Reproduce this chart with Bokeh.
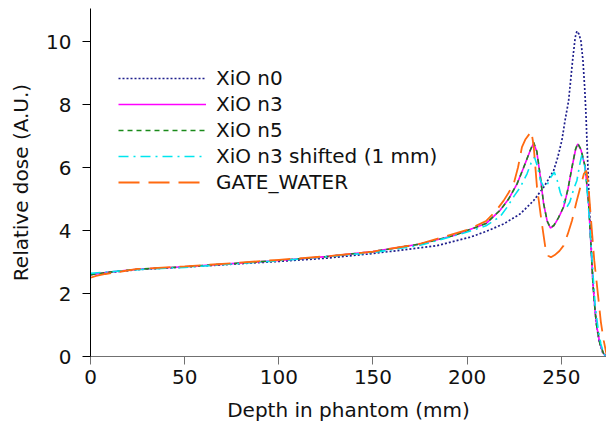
from bokeh.plotting import figure
from bokeh.models import Range1d, FixedTicker, Legend, LegendItem
from bokeh.embed import file_html
from bokeh.resources import INLINE

# ---- data ----
n0_depth = [0, 25, 50, 75, 100, 125, 150, 175, 184, 201.7, 210, 219.4, 228.2, 235.3, 240.6,
            245.9, 248, 250.3, 252, 253.9, 256, 257.4, 258.3, 259.3, 260.4, 261.5, 262.4,
            263.1, 264, 265, 266, 267, 268.5, 270, 272, 274]
n0_dose = [2.6, 2.76, 2.84, 2.93, 3.02, 3.12, 3.27, 3.45, 3.52, 3.79, 3.97, 4.21, 4.53, 4.95, 5.37,
           5.9, 6.3, 6.86, 7.5, 8.13, 9.4, 10.14, 10.33, 10.25, 10.03, 9.4, 8.55,
           7.7, 6.22, 4.63, 3.3, 2.2, 1.1, 0.5, 0.12, 0.0]

n3_depth = [0, 10, 25, 50, 75, 100, 125, 150, 175, 193, 200, 210, 217.6, 222, 226.5, 230, 233.5,
            235.3, 237, 238.9, 240.6, 242.5, 244.2, 246, 248.5, 251.2, 253.5, 255.7, 257.5,
            258.7, 260.5, 262.7, 264.5, 265.7, 266.8, 268, 268.9, 270.5, 272.5, 273.5]
n3_dose = [2.6, 2.68, 2.77, 2.85, 2.95, 3.05, 3.17, 3.33, 3.57, 3.84, 4.0, 4.22, 4.65, 5.0, 5.48, 6.0, 6.54,
           6.78, 6.5, 5.69, 4.85, 4.3, 4.08, 4.15, 4.4, 4.74, 5.3, 6.01, 6.55,
           6.75, 6.55, 6.01, 4.85, 3.58, 2.31, 1.4, 0.93, 0.4, 0.09, 0.0]

n5_depth = [0, 10, 25, 50, 75, 100, 125, 150, 175, 193, 200, 210, 217.6, 222, 226.5, 230, 233.5,
            235.3, 237, 238.9, 240.6, 242.5, 244.2, 246, 248.5, 251.2, 253.5, 255.7, 257.5,
            258.7, 260.5, 262.7, 264.5, 265.7, 266.8, 268, 268.9, 270.5, 272.5, 273.5]
n5_dose = [2.6, 2.68, 2.77, 2.85, 2.95, 3.05, 3.17, 3.33, 3.57, 3.84, 4.0, 4.22, 4.65, 5.0, 5.48, 6.0, 6.55,
           6.8, 6.52, 5.7, 4.86, 4.3, 4.09, 4.16, 4.41, 4.75, 5.31, 6.02, 6.57,
           6.77, 6.57, 6.02, 4.86, 3.58, 2.31, 1.4, 0.93, 0.4, 0.09, 0.0]

sh_depth = [0, 25, 50, 100, 150, 175, 200, 210, 217.6, 221.2, 225, 228.2, 231.8, 234, 235.8, 237.5,
            238.9, 240.6, 242.5, 244.5, 246.3, 247.8, 249.5, 251.2, 253, 254.5, 256.5, 258.3,
            259.8, 261, 262.3, 263.6, 265, 266.5, 268, 269.5, 271, 272.5, 273.5]
sh_dose = [2.64, 2.76, 2.83, 3.04, 3.30, 3.53, 3.95, 4.15, 4.45, 4.74, 5.1, 5.37, 5.8, 6.15, 6.33, 6.0,
           5.59, 5.4, 5.45, 5.7, 5.85, 5.6, 5.2, 4.95, 4.75, 4.9, 5.3, 5.59,
           6.1, 6.43, 6.1, 5.37, 4.3, 2.9, 1.6, 0.9, 0.4, 0.1, 0.0]

gate_depth = [0, 3, 8, 25, 50, 75, 100, 125, 150, 175, 200, 210, 215, 219.4, 222, 224.7, 227, 229.1,
              231, 234.1, 235.3, 237.1, 239.7, 241.5, 243, 244.5, 246.5, 249, 251.2, 253.5,
              255.7, 258, 260.1, 262, 263.3, 264.3, 265.4, 267.5, 269.8, 271, 272.5, 273.9, 274.5]
gate_dose = [2.5, 2.56, 2.62, 2.78, 2.86, 2.96, 3.07, 3.18, 3.33, 3.58, 4.02, 4.3, 4.6, 4.95, 5.2, 5.48, 6.0, 6.65,
             6.9, 7.15, 6.7, 5.37, 4.21, 3.47, 3.2, 3.15, 3.22, 3.35, 3.52, 3.9,
             4.32, 4.9, 5.37, 5.8, 5.9, 5.5, 4.63, 3.05, 1.78, 1.1, 0.51, 0.1, 0.0]

x_ticks = [0, 50, 100, 150, 200, 250]
y_ticks = [0, 2, 4, 6, 8, 10]

FONT = "DejaVu Sans"

p = figure(width=606, height=426, output_backend="svg", toolbar_location=None,
           x_range=Range1d(0, 274), y_range=Range1d(0, 11.05),
           min_border_left=90, min_border_right=0, min_border_top=8, min_border_bottom=70)
p.outline_line_color = None
p.xgrid.visible = False
p.ygrid.visible = False

r0 = p.line(n0_depth, n0_dose, line_color="#1e1e8c", line_width=1.7, line_dash="2 2")
r3 = p.line(n3_depth, n3_dose, line_color="#ff00ff", line_width=1.6)
r5 = p.line(n5_depth, n5_dose, line_color="#1a8a1a", line_width=1.6, line_dash="5 4")
rs = p.line(sh_depth, sh_dose, line_color="#00e5ee", line_width=1.6, line_dash="10 5 2 5")
rg = p.line(gate_depth, gate_dose, line_color="#ff6a10", line_width=1.8, line_dash="21 9")

for ax in (p.xaxis[0], p.yaxis[0]):
    ax.major_label_text_font = FONT
    ax.major_label_text_font_size = "20px"
    ax.major_label_text_color = "#111111"
    ax.axis_label_text_font = FONT
    ax.axis_label_text_font_size = "20px"
    ax.axis_label_text_font_style = "normal"
    ax.axis_label_text_color = "#111111"
    ax.minor_tick_line_color = None
    ax.major_tick_in = 0
    ax.major_tick_out = 8

p.xaxis.ticker = FixedTicker(ticks=x_ticks)
p.yaxis.ticker = FixedTicker(ticks=y_ticks)
p.xaxis.axis_label = "Depth in phantom (mm)"
p.yaxis.axis_label = "Relative dose (A.U.)"
p.xaxis.axis_line_color = "#707070"
p.xaxis.major_tick_line_color = "#707070"
p.yaxis.axis_line_color = "black"
p.yaxis.major_tick_line_color = "black"
p.xaxis.major_label_standoff = 5
p.yaxis.major_label_standoff = 11
p.xaxis.axis_label_standoff = 11
p.yaxis.axis_label_standoff = 10

legend = Legend(items=[
    LegendItem(label="XiO n0", renderers=[r0]),
    LegendItem(label="XiO n3", renderers=[r3]),
    LegendItem(label="XiO n5", renderers=[r5]),
    LegendItem(label="XiO n3 shifted (1 mm)", renderers=[rs]),
    LegendItem(label="GATE_WATER", renderers=[rg]),
], location=(28, 161))
legend.label_text_font = FONT
legend.label_text_font_size = "20px"
legend.label_text_color = "#111111"
legend.glyph_width = 88
legend.glyph_height = 26
legend.label_height = 26
legend.spacing = 0
legend.padding = 0
legend.margin = 0
legend.label_standoff = 10
legend.border_line_alpha = 0
legend.background_fill_alpha = 0
p.add_layout(legend, "center")

open("out.html", "w").write(file_html(p, INLINE))
